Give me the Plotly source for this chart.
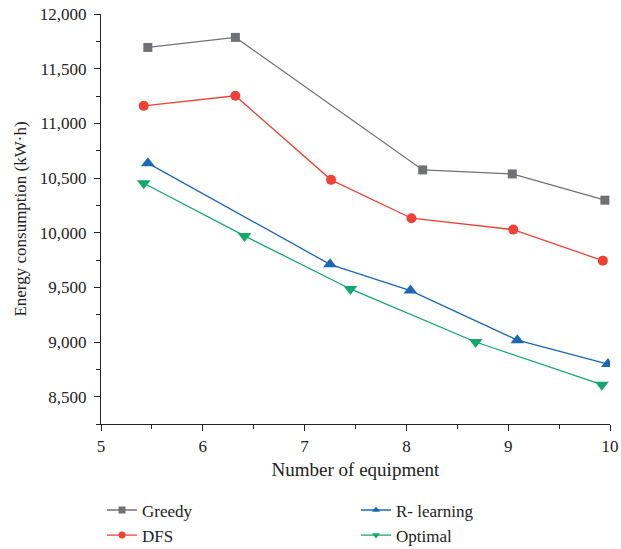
import plotly.graph_objects as go

# Energy consumption (kW·h) versus number of equipment for four scheduling methods
greedy_x = [5.46, 6.32, 8.16, 9.04, 9.95]
greedy_y = [11694, 11786, 10574, 10537, 10297]

dfs_x = [5.42, 6.32, 7.26, 8.05, 9.05, 9.93]
dfs_y = [11160, 11252, 10483, 10132, 10028, 9744]

rl_x = [5.46, 7.25, 8.04, 9.09, 9.98]
rl_y = [10636, 9710, 9470, 9017, 8798]

opt_x = [5.42, 6.41, 7.45, 8.68, 9.92]
opt_y = [10452, 9970, 9485, 9000, 8610]

x_ticks = [5, 6, 7, 8, 9, 10]
y_ticks = [8500, 9000, 9500, 10000, 10500, 11000, 11500, 12000]

FONT = "Liberation Serif"
INK = "#222"

fig = go.Figure()

series = [
    ("Greedy", greedy_x, greedy_y, "#707174", "square", 9, "legend"),
    ("DFS", dfs_x, dfs_y, "#ef4136", "circle", 10, "legend"),
    ("R- learning", rl_x, rl_y, "#1a67b8", "triangle-up", 12, "legend2"),
    ("Optimal", opt_x, opt_y, "#13a86b", "triangle-down", 12, "legend2"),
]
for name, xs, ys, color, symbol, size, leg in series:
    fig.add_trace(go.Scatter(
        x=xs, y=ys, name=name, mode="lines+markers",
        line=dict(color=color, width=1.3),
        marker=dict(symbol=symbol, size=size, color=color),
        showlegend=False,
    ))
    # legend key with a smaller marker
    fig.add_trace(go.Scatter(
        x=[None], y=[None], name=name, mode="lines+markers",
        line=dict(color=color, width=1.3),
        marker=dict(symbol=symbol, size=7, color=color),
        legend=leg,
    ))

axis_common = dict(
    showline=True, linecolor=INK, linewidth=1.2,
    ticks="outside", ticklen=6, tickwidth=1.2, tickcolor=INK,
    showgrid=False, zeroline=False, mirror=False, automargin=False,
    tickfont=dict(family=FONT, size=17, color=INK),
)

fig.update_xaxes(
    range=[5, 10], tickvals=x_ticks,
    title=dict(text="Number of equipment", font=dict(family=FONT, size=19, color=INK), standoff=8),
    minor=dict(dtick=0.5, tick0=5, ticks="outside", ticklen=4, tickwidth=1.2, tickcolor=INK),
    **axis_common,
)
fig.update_yaxes(
    range=[8250, 12000], tickvals=y_ticks, tickformat=",d", ticklabelstandoff=4,
    title=dict(text="Energy consumption (kW·h)", font=dict(family=FONT, size=17, color=INK), standoff=8),
    minor=dict(dtick=250, tick0=8250, ticks="outside", ticklen=4, tickwidth=1.2, tickcolor=INK),
    **axis_common,
)

legend_common = dict(
    orientation="v", xanchor="left", yanchor="top",
    yref="container", xref="paper",
    font=dict(family=FONT, size=17, color=INK),
    bgcolor="rgba(0,0,0,0)", tracegroupgap=0,
)

fig.update_layout(
    width=621, height=549,
    margin=dict(l=101, r=11, t=14, b=125),
    paper_bgcolor="white", plot_bgcolor="white",
    showlegend=True,
    legend=dict(x=0.002, y=0.103, **legend_common),
    legend2=dict(x=0.501, y=0.103, **legend_common),
)

fig.write_html("out.html")
